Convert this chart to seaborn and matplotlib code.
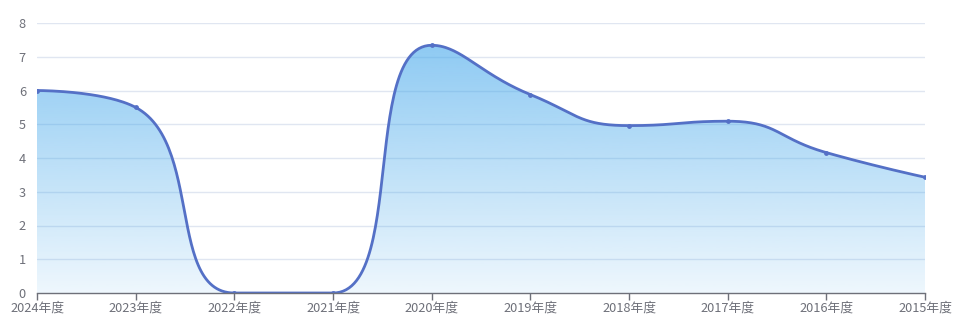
import numpy as np
import pandas as pd
import seaborn as sns
import matplotlib
matplotlib.use("Agg")
import matplotlib.pyplot as plt
from matplotlib.colors import LinearSegmentedColormap
from matplotlib.patches import Polygon

categories = ["2024年度", "2023年度", "2022年度", "2021年度", "2020年度",
              "2019年度", "2018年度", "2017年度", "2016年度", "2015年度"]
values = [6.0, 5.5, 0.0, 0.0, 7.34, 5.88, 4.96, 5.09, 4.16, 3.43]
yticks = [0, 1, 2, 3, 4, 5, 6, 7, 8]

sns.set_theme(style="white")
plt.rcParams['font.family'] = ['Noto Sans CJK SC', 'DejaVu Sans']

W, H = 957, 321
fig = plt.figure(figsize=(W / 100, H / 100), dpi=100)
L, R, T, B = 37, 925, 23, 293
ax = fig.add_axes([L / W, 1 - B / H, (R - L) / W, (B - T) / H])

n = len(categories)
xs = np.arange(n, dtype=float)
ys = np.array(values, dtype=float)
ymax = yticks[-1]
sx = (R - L) / (n - 1)
sy = (B - T) / ymax

# ECharts-style smooth bezier computed in pixel space
px = xs * sx
py = ys * sy
smooth = 0.5
segs = []
cp0x, cp0y = px[0], py[0]
for i in range(n - 1):
    x, y = px[i], py[i]
    if i == 0:
        c0 = (x, y)
    else:
        c0 = (cp0x, cp0y)
    nx, ny = px[i + 1], py[i + 1]
    if i + 1 < n - 1:
        x1, y1 = nx, ny
        prx, pry = x, y
        nnx, nny = px[i + 2], py[i + 2]
        vx, vy = nnx - prx, nny - pry
        lp = np.hypot(x1 - prx, y1 - pry)
        ln = np.hypot(nnx - x1, nny - y1)
        ratio = ln / (ln + lp) if (ln + lp) > 0 else 0.5
        ncx = x1 + vx * smooth * ratio
        ncy = y1 + vy * smooth * ratio
        ncx = min(ncx, max(nnx, x1)); ncx = max(ncx, min(nnx, x1))
        ncy = min(ncy, max(nny, y1)); ncy = max(ncy, min(nny, y1))
        vx, vy = ncx - x1, ncy - y1
        c1x = x1 - vx * lp / ln
        c1y = y1 - vy * lp / ln
        c1x = min(c1x, max(prx, x1)); c1x = max(c1x, min(prx, x1))
        c1y = min(c1y, max(pry, y1)); c1y = max(c1y, min(pry, y1))
        vx, vy = x1 - c1x, y1 - c1y
        cp0x = x1 + vx * ln / lp
        cp0y = y1 + vy * ln / lp
        c1 = (c1x, c1y)
    else:
        c1 = (nx, ny)
    segs.append(((x, y), c0, c1, (nx, ny)))

t = np.linspace(0, 1, 60)
cx, cy = [], []
for p0, p1, p2, p3 in segs:
    bx = (1 - t) ** 3 * p0[0] + 3 * (1 - t) ** 2 * t * p1[0] + 3 * (1 - t) * t ** 2 * p2[0] + t ** 3 * p3[0]
    by = (1 - t) ** 3 * p0[1] + 3 * (1 - t) ** 2 * t * p1[1] + 3 * (1 - t) * t ** 2 * p2[1] + t ** 3 * p3[1]
    cx.extend(bx / sx)
    cy.extend(by / sy)
cx = np.array(cx); cy = np.array(cy)

ax.set_xlim(0, n - 1)
ax.set_ylim(0, ymax)

# semi-transparent gradient fill (grid shows through)
base = (67 / 255, 167 / 255, 235 / 255)
cmap = LinearSegmentedColormap.from_list("g", [(*base, 0.09), (*base, 0.6)])
top = ys.max()
grad = np.linspace(0, 1, 256).reshape(-1, 1)
im = ax.imshow(grad, cmap=cmap, aspect="auto", origin="lower",
               extent=[0, n - 1, 0, top], zorder=1)
poly = Polygon(np.column_stack([np.r_[cx, cx[-1], cx[0]], np.r_[cy, 0, 0]]),
               closed=True, transform=ax.transData)
im.set_clip_path(poly)

df = pd.DataFrame({"x": cx, "y": cy})
sns.lineplot(data=df, x="x", y="y", ax=ax, color="#5470c6", linewidth=2,
             sort=False, estimator=None, zorder=3)
ax.scatter(xs, ys, s=6, color="#5470c6", zorder=4)

for v in yticks[1:]:
    ax.axhline(v, color="#e0e6f1", linewidth=1, zorder=0.5)
ax.set_xlim(0, n - 1)
ax.set_ylim(0, ymax)

ax.set_xticks(xs)
ax.set_xticklabels(categories)
ax.set_yticks(yticks)
ax.set_yticklabels([str(v) for v in yticks])
ax.tick_params(axis="x", colors="#6e7079", labelcolor="#6e7079", labelsize=9.2,
               length=5, width=1, direction="out", bottom=True, pad=1)
ax.tick_params(axis="y", labelcolor="#6e7079", labelsize=9.2, length=0, pad=8)
for s in ["top", "right", "left"]:
    ax.spines[s].set_visible(False)
ax.spines["bottom"].set_color("#6e7079")
ax.spines["bottom"].set_linewidth(1)
ax.spines["bottom"].set_zorder(5)
ax.set_xlabel("")
ax.set_ylabel("")
ax.grid(False)

fig.savefig("out.png", dpi=100)
